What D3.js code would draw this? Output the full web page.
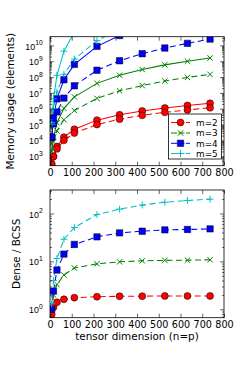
<!DOCTYPE html>
<html><head><meta charset="utf-8">
<script src="https://cdn.jsdelivr.net/npm/d3@7"></script>
<style>
html,body{margin:0;padding:0;background:#fff;}
svg{display:block;font-family:"DejaVu Sans",sans-serif;}
</style></head>
<body><svg id="c" width="249" height="374"></svg>
<script>
// tensor dimension n = p
const dims = [8, 16, 32, 64, 112, 216, 320, 424, 528, 632, 736];
const xTicks = [0, 100, 200, 300, 400, 500, 600, 700, 800];
const topYTicks = [3, 4, 5, 6, 7, 8, 9, 10];   // exponents
const botYTicks = [0, 1, 2];
const seriesNames = ["m=2", "m=3", "m=4", "m=5"];
const seriesColors = ["#ff0000", "#008000", "#0000ff", "#00bfbf"];
const seriesMarkers = ["circle", "x", "square", "plus"];

// memory usage (elements): dense (solid) and BCSS (dashed)
const denseM2 = [2.6e2, 1.0e3, 4.1e3, 1.6e4, 5.0e4, 1.9e5, 4.1e5, 7.2e5, 1.1e6, 1.6e6, 2.2e6];
const bcssM2  = [3.3e2, 9.3e2, 2.9e3, 1.0e4, 2.9e4, 1.0e5, 2.2e5, 3.8e5, 5.9e5, 8.4e5, 1.15e6];
const denseM3 = [2.0e3, 1.6e4, 1.3e5, 1.05e6, 5.6e6, 4.0e7, 1.3e8, 3.0e8, 5.9e8, 1.0e9, 1.6e9];
const bcssM3  = [2.0e3, 8.2e3, 4.0e4, 2.0e5, 7.7e5, 4.5e6, 1.35e7, 2.9e7, 5.6e7, 9.5e7, 1.48e8];
const denseM4 = [1.6e4, 2.6e5, 4.2e6, 6.7e7, 6.3e8, 8.7e9, 4.2e10, 1.3e11, 3.1e11, 6.4e11, 1.2e12];
const bcssM4  = [1.6e4, 1.1e5, 6.3e5, 4.7e6, 2.8e7, 2.7e8, 1.07e9, 3.0e9, 6.8e9, 1.35e10, 2.5e10];
const denseM5 = [1.3e5, 4.2e6, 1.3e8, 4.3e9, 7.0e10, 1.9e12, 1.3e13, 5.5e13, 1.6e14, 4.0e14, 8.8e14];
const bcssM5  = [1.0e5, 1.05e6, 1.15e7, 1.5e8, 1.37e9, 2.0e10, 1.06e11, 3.7e11, 9.5e11, 2.1e12, 4.4e12];

// ratio dense / BCSS
const ratioM2 = [0.78, 1.1, 1.4, 1.62, 1.75, 1.83, 1.87, 1.88, 1.9, 1.9, 1.9];
const ratioM3 = [1.0, 2.0, 3.3, 5.2, 7.3, 8.9, 9.8, 10.3, 10.5, 10.6, 10.8];
const ratioM4 = [1.0, 2.4, 6.6, 14.2, 22.6, 32.5, 39.3, 42.7, 45.5, 46.4, 47.7];
const ratioM5 = [1.3, 4.0, 11.5, 29, 51, 95, 123, 150, 172, 187, 199];

const denseAll = [denseM2, denseM3, denseM4, denseM5];
const bcssAll = [bcssM2, bcssM3, bcssM4, bcssM5];
const ratioAll = [ratioM2, ratioM3, ratioM4, ratioM5];

const svg = d3.select("#c");
const DASH = "6,3.5";

function markerPath(type) {
  if (type === "x") { const s = 2.7; return `M${-s},${-s}L${s},${s}M${-s},${s}L${s},${-s}`; }
  if (type === "plus") { const s = 3.4; return `M${-s},0H${s}M0,${-s}V${s}`; }
  if (type === "square") { const s = 3.2; return `M${-s},${-s}H${s}V${s}H${-s}Z`; }
  return d3.symbol(d3.symbolCircle, 38)();
}
function styleMarker(sel, i) {
  const t = seriesMarkers[i], c = seriesColors[i];
  if (t === "x" || t === "plus") sel.attr("fill", "none").attr("stroke", c).attr("stroke-width", 1);
  else sel.attr("fill", c).attr("stroke", "#000").attr("stroke-width", 0.5);
}

function panel(id, L, T, R, B, yDomainExp, yTickExps, groups) {
  const x = d3.scaleLinear().domain([0, 800]).range([L, R]);
  const y = d3.scaleLog().domain([Math.pow(10, yDomainExp[0]), Math.pow(10, yDomainExp[1])]).range([B, T]);
  const g = svg.append("g");
  g.append("clipPath").attr("id", id).append("rect")
    .attr("x", L).attr("y", T).attr("width", R - L).attr("height", B - T);
  const plot = g.append("g").attr("clip-path", `url(#${id})`);
  groups.forEach(gr => {
    const line = d3.line().x((d, k) => x(dims[k])).y(d => y(d));
    plot.append("path").datum(gr.values).attr("d", line)
      .attr("fill", "none").attr("stroke", seriesColors[gr.s]).attr("stroke-width", 1.05)
      .attr("stroke-dasharray", gr.dashed ? DASH : null);
  });
  groups.forEach(gr => {
    plot.append("g").selectAll("path").data(gr.values).join("path")
      .attr("d", markerPath(seriesMarkers[gr.s]))
      .attr("transform", (d, k) => `translate(${x(dims[k])},${y(d)})`)
      .call(styleMarker, gr.s);
  });
  // minor log ticks
  const lo = Math.floor(yDomainExp[0]), hi = Math.ceil(yDomainExp[1]);
  const minor = [];
  for (let e = lo; e <= hi; e++) for (let m = 2; m <= 9; m++) {
    const v = m * Math.pow(10, e);
    if (v >= y.domain()[0] && v <= y.domain()[1]) minor.push(v);
  }
  const major = yTickExps.map(e => Math.pow(10, e));
  const axStyle = s => { s.select(".domain").remove(); s.selectAll("line").attr("stroke", "#000").attr("stroke-width", 0.6); };
  g.append("g").attr("transform", `translate(${L},0)`).call(d3.axisLeft(y).tickValues(minor).tickSize(-2).tickFormat("")).call(axStyle);
  g.append("g").attr("transform", `translate(${R},0)`).call(d3.axisRight(y).tickValues(minor).tickSize(-2).tickFormat("")).call(axStyle);
  g.append("g").attr("transform", `translate(${R},0)`).call(d3.axisRight(y).tickValues(major).tickSize(-4).tickFormat("")).call(axStyle);
  const ly = g.append("g").attr("transform", `translate(${L},0)`)
    .call(d3.axisLeft(y).tickValues(major).tickSize(-4).tickPadding(7.5).tickFormat(""))
    .call(axStyle);
  ly.selectAll(".tick text").each(function (d) {
    const t = d3.select(this).attr("x", null).attr("dy", null).attr("fill", "#000")
      .attr("text-anchor", "end").attr("transform", "translate(-7.3,3.6)").text(null);
    t.append("tspan").attr("font-size", "8.8px").text("10");
    t.append("tspan").attr("font-size", "6.8px").attr("dy", -4.3).text(Math.round(Math.log10(d)));
  });
  g.append("g").attr("transform", `translate(0,${T})`).call(d3.axisTop(x).tickValues(xTicks).tickSize(-4).tickFormat("")).call(axStyle);
  const lx = g.append("g").attr("transform", `translate(0,${B})`)
    .call(d3.axisBottom(x).tickValues(xTicks).tickSize(-4).tickPadding(3.5)).call(axStyle);
  lx.selectAll("text").attr("font-size", "9.6px").attr("fill", "#000").attr("font-family", "DejaVu Sans");
  g.append("rect").attr("x", L).attr("y", T).attr("width", R - L).attr("height", B - T)
    .attr("fill", "none").attr("stroke", "#000").attr("stroke-width", 0.8);
  return { x, y };
}

const topGroups = [];
for (let i = 0; i < 4; i++) {
  topGroups.push({ s: i, values: denseAll[i], dashed: false });
  topGroups.push({ s: i, values: bcssAll[i], dashed: true });
}
panel("clipTop", 50, 36.7, 224, 165.7, [2.4, 10.55], topYTicks, topGroups);
panel("clipBot", 50, 190, 224, 317.7, [-0.175, 2.49], botYTicks, ratioAll.map((v, i) => ({ s: i, values: v, dashed: true })));

// legend
const lg = svg.append("g");
lg.append("rect").attr("x", 168.5).attr("y", 114).attr("width", 53).attr("height", 45)
  .attr("fill", "#fff").attr("stroke", "#000").attr("stroke-width", 0.8);
const rows = [122.5, 133, 143.3, 153.5];
seriesNames.forEach((name, i) => {
  lg.append("line").attr("x1", 171).attr("x2", 190).attr("y1", rows[i]).attr("y2", rows[i])
    .attr("stroke", seriesColors[i]).attr("stroke-width", 1).attr("stroke-dasharray", "6,1.5");
  lg.append("path").attr("d", markerPath(seriesMarkers[i]))
    .attr("transform", `translate(180.5,${rows[i]})`).call(styleMarker, i);
  lg.append("text").attr("x", 196).attr("y", rows[i] + 3.2).attr("font-size", "8.9px").text(name);
});

// axis labels
svg.append("text").attr("transform", "translate(13.5,101.2) rotate(-90)").attr("text-anchor", "middle")
  .attr("font-size", "10.4px").text("Memory usage (elements)");
svg.append("text").attr("transform", "translate(19.5,253.9) rotate(-90)").attr("text-anchor", "middle")
  .attr("font-size", "10.4px").text("Dense / BCSS");
svg.append("text").attr("x", 137).attr("y", 340.3).attr("text-anchor", "middle")
  .attr("font-size", "10.4px").text("tensor dimension (n=p)");
</script></body></html>
